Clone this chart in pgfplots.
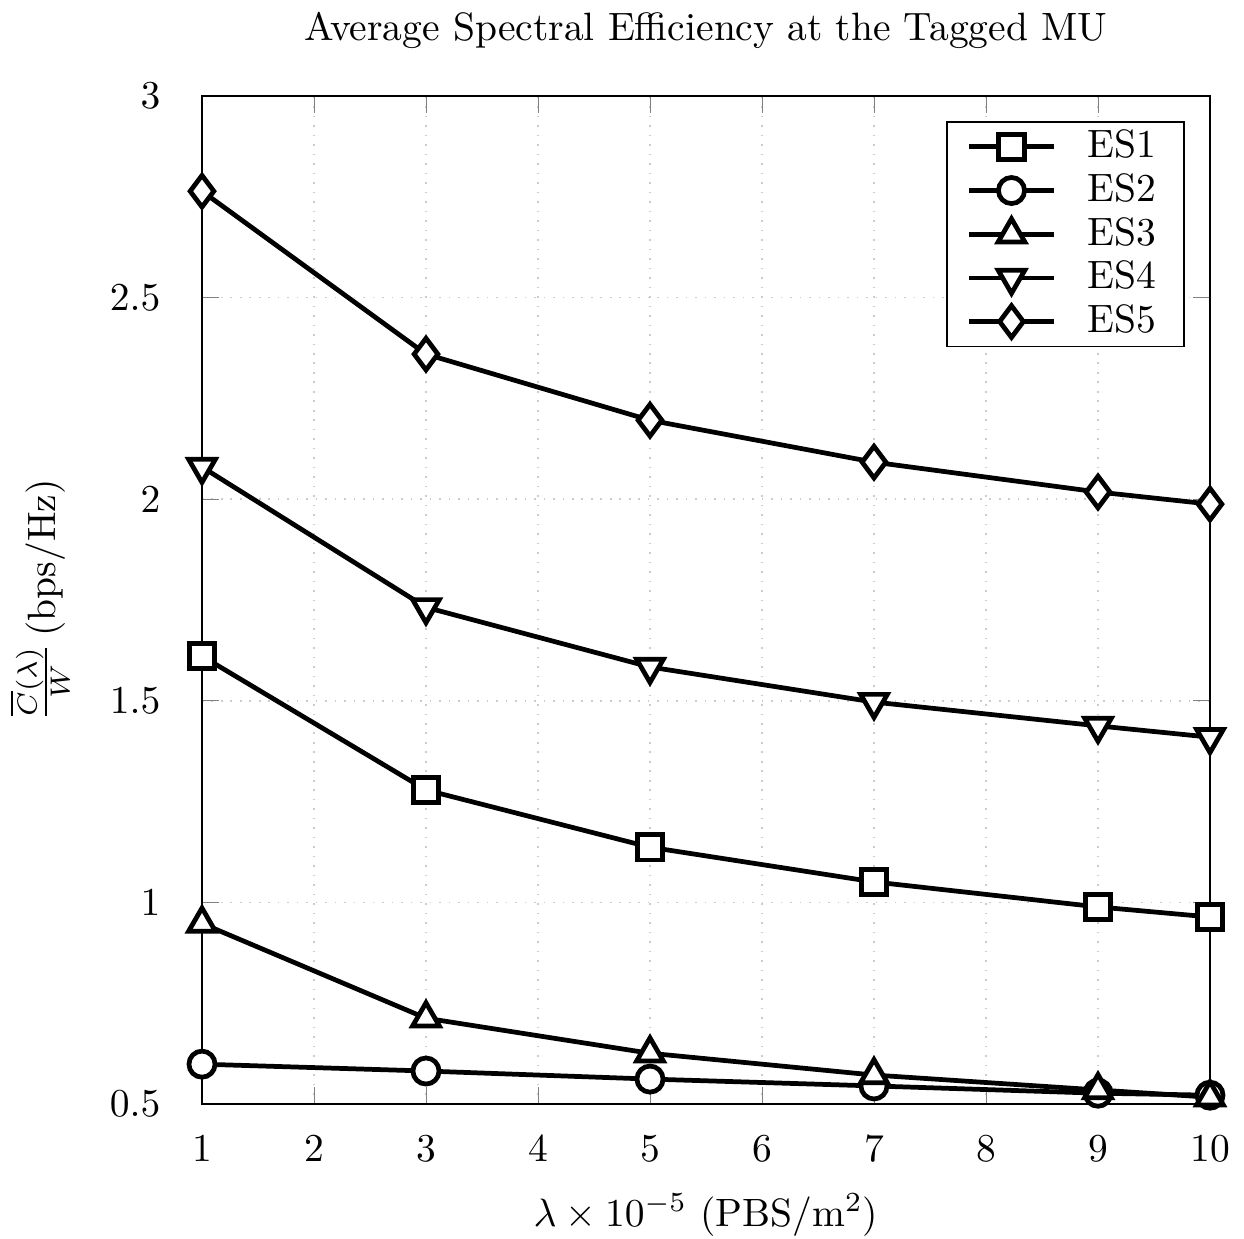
\documentclass[border=0pt]{standalone}
\usepackage{pgfplots}
\pgfplotsset{compat=1.18}
\begin{document}
\begin{tikzpicture}
\begin{axis}[
  scale only axis, width=255pt, height=255pt,
  xmin=1, xmax=10, ymin=0.5, ymax=3,
  xtick={1,...,10}, ytick={0.5,1,1.5,2,2.5,3},
  grid=major, grid style={dotted, gray!40},
  title={Average Spectral Efficiency at the Tagged MU},
  title style={at={(axis description cs:0.5,1.042)}, anchor=center},
  xlabel={$\lambda\times 10^{-5}$ (PBS/m$^2$)},
  xlabel style={at={(axis description cs:0.5,-0.110)}, anchor=center},
  ylabel={$\frac{\overline{C}(\lambda)}{W}$\,(bps/Hz)},
  ylabel style={at={(axis description cs:-0.161,0.5)}, anchor=center},
  yticklabel style={xshift=-7pt},
  xticklabel style={yshift=-4.5pt},
  legend style={at={(0.975,0.975)}, anchor=north east, inner xsep=5pt, inner ysep=0pt, row sep=-1.5pt,
    /tikz/every odd column/.append style={column sep=6pt}},
  legend cell align=left,
  legend image code/.code={\draw[mark repeat=2,mark phase=2] plot coordinates {(0cm,0cm) (0.375cm,0cm) (0.75cm,0cm)};},
]
\addplot[black, line width=1.2pt, mark=square*, mark size=3.2pt, mark options={solid, fill=white}] coordinates {(1,1.611) (3,1.279) (5,1.137) (7,1.051) (9,0.989) (10,0.964)};
\addplot[black, line width=1.2pt, mark=*, mark size=3.3pt, mark options={solid, fill=white}] coordinates {(1,0.599) (3,0.582) (5,0.562) (7,0.545) (9,0.527) (10,0.522)};
\addplot[black, line width=1.2pt, mark=triangle*, mark size=3.9pt, mark options={solid, fill=white}] coordinates {(1,0.948) (3,0.713) (5,0.626) (7,0.572) (9,0.535) (10,0.517)};
\addplot[black, line width=1.2pt, mark=triangle*, mark size=3.9pt, mark options={solid, fill=white, rotate=180}] coordinates {(1,2.080) (3,1.732) (5,1.584) (7,1.497) (9,1.438) (10,1.410)};
\addplot[black, line width=1.2pt, mark=diamond*, mark size=4pt, mark options={solid, fill=white}] coordinates {(1,2.764) (3,2.360) (5,2.196) (7,2.092) (9,2.018) (10,1.988)};
\legend{ES1,ES2,ES3,ES4,ES5}
\end{axis}
\pgfresetboundingbox
\path ([shift={(-51.1pt,-34.1pt)}]current axis.south west) rectangle ([shift={(8.6pt,24.3pt)}]current axis.north east);
\end{tikzpicture}
\end{document}
